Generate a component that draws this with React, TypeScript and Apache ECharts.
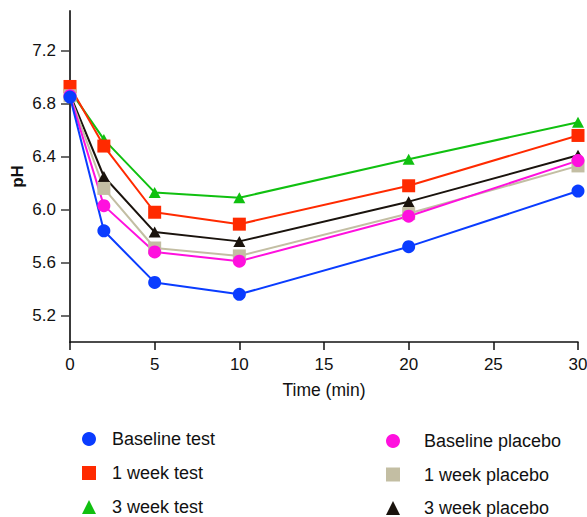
import React, { useEffect, useRef } from "react";
import * as echarts from "echarts";

// Sampling times (min)
const times = [0, 2, 5, 10, 20, 30];

// Mean pH at each sampling time
const baselineTest = [6.85, 5.84, 5.45, 5.36, 5.72, 6.14];
const week1Test = [6.93, 6.48, 5.98, 5.89, 6.18, 6.56];
const week3Test = [6.9, 6.53, 6.13, 6.09, 6.38, 6.66];
const baselinePlacebo = [6.86, 6.03, 5.68, 5.61, 5.95, 6.37];
const week1Placebo = [6.86, 6.16, 5.71, 5.65, 5.97, 6.33];
const week3Placebo = [6.87, 6.25, 5.83, 5.76, 6.06, 6.41];

const yTicks = [5.2, 5.6, 6.0, 6.4, 6.8, 7.2];
const xTickStep = 5;

const FONT = "Liberation Sans, Arial, sans-serif";

type SeriesDef = {
  name: string;
  data: number[];
  color: string;
  symbol: string;
  size: number | number[];
  icon: string;
};

// Listed in drawing order (later ones sit on top)
const seriesDefs: SeriesDef[] = [
  { name: "3 week test", data: week3Test, color: "#10c010", symbol: "triangle", size: [12, 11], icon: "triangle" },
  { name: "1 week test", data: week1Test, color: "#ff2a00", symbol: "rect", size: 13, icon: "rect" },
  { name: "3 week placebo", data: week3Placebo, color: "#1a130d", symbol: "triangle", size: [12, 11], icon: "triangle" },
  { name: "1 week placebo", data: week1Placebo, color: "#c3bea3", symbol: "rect", size: 13, icon: "rect" },
  { name: "Baseline placebo", data: baselinePlacebo, color: "#ff10de", symbol: "circle", size: 13, icon: "circle" },
  { name: "Baseline test", data: baselineTest, color: "#0a3cff", symbol: "circle", size: 13, icon: "circle" },
];

const leftLegend = ["Baseline test", "1 week test", "3 week test"];
const rightLegend = ["Baseline placebo", "1 week placebo", "3 week placebo"];

function legendItems(names: string[]) {
  return names.map((n) => {
    const d = seriesDefs.find((s) => s.name === n)!;
    return { name: n, icon: d.icon };
  });
}

export default function App() {
  const ref = useRef<HTMLDivElement>(null);

  useEffect(() => {
    if (!ref.current) return;
    const chart = echarts.init(ref.current, undefined, { renderer: "svg" });

    const legendCommon = {
      orient: "vertical" as const,
      padding: 0,
      itemWidth: 14,
      itemHeight: 14,
      selectedMode: false,
      textStyle: { fontFamily: FONT, fontSize: 18, color: "#111", lineHeight: 18 },
    };

    chart.setOption({
      animation: false,
      backgroundColor: "#ffffff",
      textStyle: { fontFamily: FONT },
      grid: {
        left: 70,
        right: 9,
        top: 11,
        bottom: 175,
        containLabel: false,
        outerBoundsMode: "none",
      },
      xAxis: {
        type: "value",
        min: 0,
        max: 30,
        interval: xTickStep,
        name: "Time (min)",
        nameLocation: "middle",
        nameGap: 39,
        nameMoveOverlap: false,
        nameTextStyle: { fontFamily: FONT, fontSize: 17.5, color: "#111" },
        axisLine: { show: true, onZero: false, lineStyle: { color: "#111", width: 1.5 } },
        axisTick: { show: true, length: 8, lineStyle: { color: "#111", width: 1.5 } },
        axisLabel: { margin: 14, fontFamily: FONT, fontSize: 17, color: "#111" },
        splitLine: { show: false },
      },
      yAxis: {
        type: "value",
        min: 5.0,
        max: 7.5,
        name: "pH",
        nameLocation: "middle",
        nameGap: 44,
        nameMoveOverlap: false,
        nameTextStyle: { fontFamily: FONT, fontSize: 17, fontWeight: "bold", color: "#111" },
        axisLine: { show: true, onZero: false, lineStyle: { color: "#3a3a3a", width: 2 } },
        axisTick: {
          show: true,
          length: 9,
          customValues: yTicks,
          lineStyle: { color: "#3a3a3a", width: 1.5 },
        },
        axisLabel: {
          margin: 14,
          customValues: yTicks,
          fontFamily: FONT,
          fontSize: 17,
          color: "#111",
          formatter: (v: number) => v.toFixed(1),
        },
        splitLine: { show: false },
      },
      legend: [
        {
          ...legendCommon,
          left: 82,
          top: 430,
          itemGap: 16,
          data: legendItems(leftLegend),
          textStyle: { ...legendCommon.textStyle, padding: [0, 0, 0, 11] },
        },
        {
          ...legendCommon,
          left: 386,
          top: 432,
          itemGap: 15.5,
          data: legendItems(rightLegend),
          textStyle: { ...legendCommon.textStyle, padding: [0, 0, 0, 19] },
        },
      ],
      series: seriesDefs.map((s) => ({
        name: s.name,
        type: "line",
        data: times.map((t, i) => [t, s.data[i]]),
        symbol: s.symbol,
        symbolSize: s.size,
        showAllSymbol: true,
        color: s.color,
        lineStyle: { color: s.color, width: 2 },
        itemStyle: { color: s.color, borderWidth: 0 },
        emphasis: { disabled: true },
      })),
    });

    return () => chart.dispose();
  }, []);

  return (
    <div
      ref={ref}
      style={{ position: "fixed", left: 0, top: 0, width: 587, height: 517 }}
    />
  );
}
